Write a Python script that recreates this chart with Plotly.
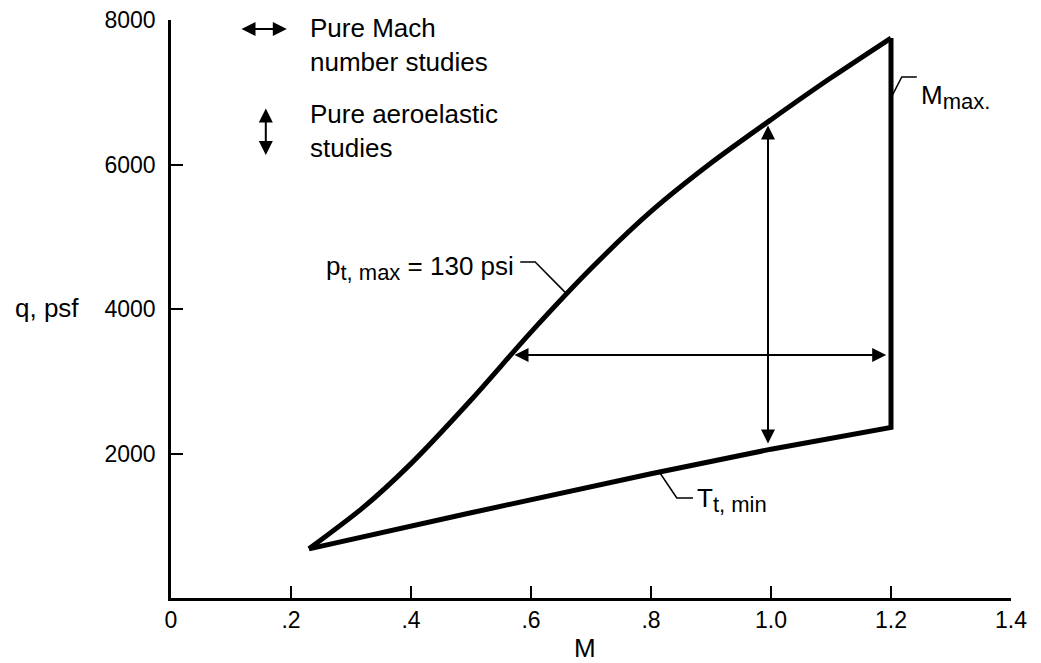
import plotly.graph_objects as go

# upper boundary (p_t,max = 130 psi)
mach_upper = [0.23, 0.32, 0.40, 0.50, 0.60, 0.70, 0.80, 0.90, 1.00, 1.10, 1.20]
q_upper = [680, 1250, 1860, 2740, 3680, 4560, 5350, 6020, 6620, 7200, 7750]

# M_max side and lower boundary (T_t,min)
mach_lower = [1.20, 1.20, 1.00, 0.80, 0.50, 0.23]
q_lower = [7750, 2360, 2060, 1720, 1180, 680]

x_ticks = [0, 0.2, 0.4, 0.6, 0.8, 1.0, 1.2, 1.4]
x_ticktext = ["0", ".2", ".4", ".6", ".8", "1.0", "1.2", "1.4"]
y_ticks = [2000, 4000, 6000, 8000]

# study arrows
mach_sweep = (0.57, 1.192, 3363)    # from M, to M, at q
q_sweep = (0.995, 2118, 6540)       # at M, from q, to q

FONT = "Liberation Sans, Arial, sans-serif"

fig = go.Figure()
fig.add_trace(go.Scatter(
    x=mach_upper, y=q_upper,
    mode="lines",
    line=dict(color="black", width=5, shape="spline", smoothing=0.7),
    hoverinfo="skip", showlegend=False,
))
fig.add_trace(go.Scatter(
    x=mach_lower, y=q_lower,
    mode="lines",
    line=dict(color="black", width=5),
    hoverinfo="skip", showlegend=False,
))

annotations = []


def double_arrow(x0, y0, x1, y1):
    annotations.append(dict(
        x=x1, y=y1, ax=x0, ay=y0, xref="x", yref="y", axref="x", ayref="y",
        text="", showarrow=True, arrowhead=2, startarrowhead=2, arrowside="end+start",
        arrowsize=1.4, startarrowsize=1.4, arrowwidth=2, arrowcolor="black",
    ))


double_arrow(mach_sweep[0], mach_sweep[2], mach_sweep[1], mach_sweep[2])
double_arrow(q_sweep[0], q_sweep[1], q_sweep[0], q_sweep[2])

# key arrows, top left
double_arrow(0.115, 7875, 0.193, 7875)
double_arrow(0.158, 6796, 0.158, 6131)


def label(x, y, text, xanchor="left", size=26, xref="x", yref="y"):
    annotations.append(dict(
        x=x, y=y, xref=xref, yref=yref, text=text, showarrow=False,
        xanchor=xanchor, yanchor="middle", align="left",
        font=dict(family=FONT, size=size, color="black"),
    ))


SUB = "<sub><span style='font-size:22px'>%s</span></sub>"

label(0.228, 7654, "Pure Mach<br>number studies")
label(0.228, 6464, "Pure aeroelastic<br>studies")
label(0.575, 4567, "p" + SUB % "t, max" + " = 130 psi", xanchor="right")
label(0.873, 1356, "T" + SUB % "t, min")
label(1.246, 6934, "M" + SUB % "max.")
label(-0.148, 0.502, "q, psf", xanchor="center", xref="paper", yref="paper")
label(0.493, -0.0865, "M", xanchor="center", xref="paper", yref="paper")

leader = dict(color="black", width=1.5)
shapes = [
    dict(type="path", path="M 0.582,4650 L 0.607,4650 L 0.657,4230",
         xref="x", yref="y", line=leader),
    dict(type="path", path="M 0.815,1730 L 0.843,1384 L 0.87,1384",
         xref="x", yref="y", line=leader),
    dict(type="path", path="M 1.198,6892 L 1.218,7211 L 1.243,7211",
         xref="x", yref="y", line=leader),
]

fig.update_layout(
    width=1041, height=663,
    margin=dict(l=163, r=38, t=12, b=73),
    plot_bgcolor="white", paper_bgcolor="white",
    annotations=annotations,
    shapes=shapes,
    xaxis=dict(
        range=[0, 1.4], tickvals=x_ticks, ticktext=x_ticktext, automargin=False,
        showgrid=False, zeroline=False, showline=True, linecolor="black", linewidth=2.5,
        ticks="inside", ticklen=12, tickwidth=2, tickcolor="black",
        tickfont=dict(family=FONT, size=23, color="black"),
    ),
    yaxis=dict(
        range=[0, 8000], tickvals=y_ticks, automargin=False,
        showgrid=False, zeroline=False, showline=True, linecolor="black", linewidth=2.5,
        ticks="inside", ticklen=12, tickwidth=2, tickcolor="black", ticklabelstandoff=8,
        ticklabeloverflow="allow",
        tickfont=dict(family=FONT, size=23, color="black"),
    ),
)

fig.write_html("out.html")
